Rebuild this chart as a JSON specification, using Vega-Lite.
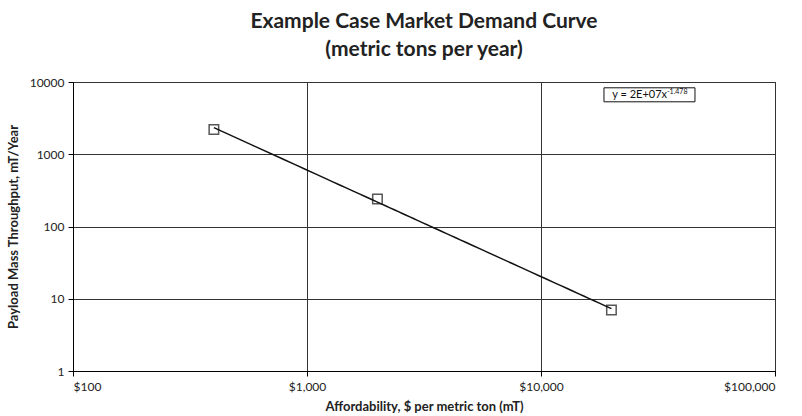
{
  "$schema": "https://vega.github.io/schema/vega-lite/v6.json",
  "width": 702,
  "height": 289,
  "autosize": {"type": "none"},
  "padding": {"left": 73, "top": 82, "right": 27, "bottom": 45},
  "background": "white",
  "config": {
    "view": {"stroke": "#000", "strokeWidth": 1},
    "font": "Lato",
    "axis": {
      "grid": true,
      "gridColor": "#333",
      "gridWidth": 1,
      "domainColor": "#000",
      "tickColor": "#000",
      "tickSize": 5,
      "labelFont": "Lato",
      "labelFontSize": 12,
      "labelColor": "#222",
      "titleFont": "Lato",
      "titleFontSize": 13,
      "titleFontWeight": "bold",
      "titleColor": "#222"
    }
  },
  "title": {
    "text": ["Example Case Market Demand Curve", "(metric tons per year)"],
    "font": "Lato",
    "fontSize": 21,
    "fontWeight": "bold",
    "color": "#222",
    "lineHeight": 28,
    "offset": 16,
    "anchor": "middle"
  },
  "data": {
    "values": [
      {"affordability": 400, "throughput": 2200},
      {"affordability": 2000, "throughput": 240},
      {"affordability": 20000, "throughput": 7}
    ]
  },
  "layer": [
    {
      "transform": [{"regression": "throughput", "on": "affordability", "method": "pow"}],
      "mark": {"type": "line", "color": "#111", "strokeWidth": 1.5},
      "encoding": {
        "x": {
          "field": "affordability",
          "type": "quantitative",
          "scale": {"type": "log", "domain": [100, 100000], "nice": false},
          "axis": {
            "values": [100, 1000, 10000, 100000],
            "format": "$,.0f",
            "title": "Affordability, $ per metric ton (mT)",
            "labelPadding": 5,
            "titlePadding": 8
          }
        },
        "y": {
          "field": "throughput",
          "type": "quantitative",
          "scale": {"type": "log", "domain": [1, 10000], "nice": false},
          "axis": {
            "values": [1, 10, 100, 1000, 10000],
            "format": "d",
            "title": "Payload Mass Throughput, mT/Year",
            "labelPadding": 4,
            "titlePadding": 9
          }
        }
      }
    },
    {
      "mark": {"type": "point", "shape": "square", "filled": false, "size": 90, "color": "#111", "strokeWidth": 1.5},
      "encoding": {
        "x": {"field": "affordability", "type": "quantitative"},
        "y": {"field": "throughput", "type": "quantitative"}
      }
    },
    {
      "data": {"values": [{}]},
      "mark": {"type": "rect", "fill": "white", "stroke": "#111", "strokeWidth": 1},
      "encoding": {
        "x": {"datum": 18580, "type": "quantitative"},
        "x2": {"datum": 45500},
        "y": {"datum": 8310, "type": "quantitative"},
        "y2": {"datum": 5320}
      }
    },
    {
      "data": {"values": [{}]},
      "mark": {"type": "text", "align": "right", "baseline": "middle", "font": "Lato", "fontSize": 11, "color": "#111"},
      "encoding": {
        "x": {"datum": 34550, "type": "quantitative"},
        "y": {"datum": 6650, "type": "quantitative"},
        "text": {"value": "y = 2E+07x"}
      }
    },
    {
      "data": {"values": [{}]},
      "mark": {"type": "text", "align": "left", "baseline": "middle", "font": "Lato", "fontSize": 7, "dy": -3, "color": "#111"},
      "encoding": {
        "x": {"datum": 34550, "type": "quantitative"},
        "y": {"datum": 6650, "type": "quantitative"},
        "text": {"value": "-1.478"}
      }
    }
  ]
}
